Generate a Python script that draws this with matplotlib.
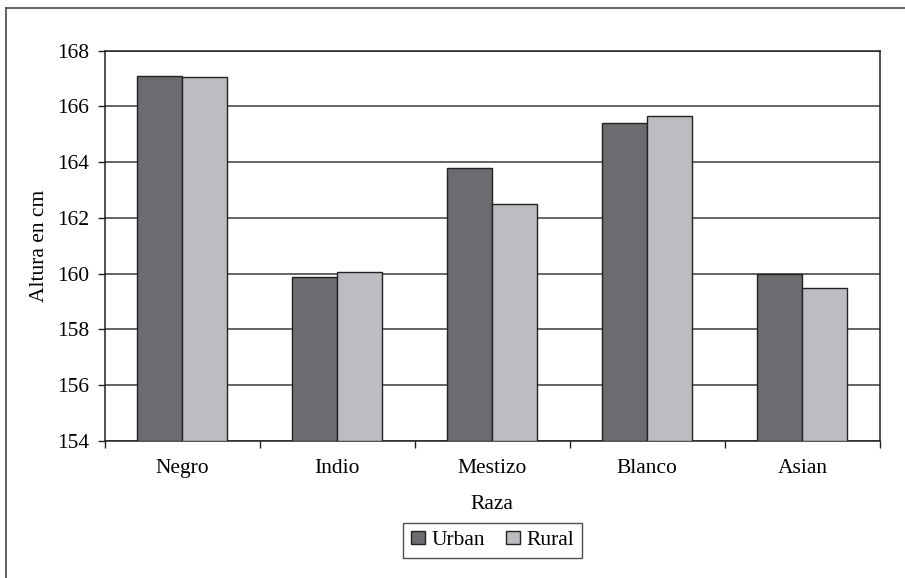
import matplotlib
matplotlib.use("Agg")
import matplotlib.pyplot as plt
from matplotlib.lines import Line2D
import numpy as np

categories = ["Negro", "Indio", "Mestizo", "Blanco", "Asian"]
urban = [167.1, 159.87, 163.8, 165.4, 160.0]
rural = [167.05, 160.07, 162.5, 165.65, 159.5]
yticks = [154, 156, 158, 160, 162, 164, 166, 168]

plt.rcParams["font.family"] = ["Liberation Serif", "DejaVu Serif"]
plt.rcParams["font.size"] = 15.5

W, H = 905, 578
fig = plt.figure(figsize=(W / 100, H / 100), dpi=100)
ax = fig.add_axes([104.5 / W, 1 - 441 / H, (880 - 104.5) / W, (441 - 50.5) / H])

x = np.arange(len(categories))
bw = 0.29
ax.bar(x - bw / 2, np.array(urban) - 154, bw, bottom=154, color="#6b6c70",
       edgecolor="#222222", linewidth=1.0, label="Urban", zorder=3)
ax.bar(x + bw / 2, np.array(rural) - 154, bw, bottom=154, color="#bcbdc0",
       edgecolor="#222222", linewidth=1.0, label="Rural", zorder=3)

ax.set_xlim(-0.5, len(categories) - 0.5)
ax.set_ylim(154, 168)
ax.set_yticks(yticks)
ax.set_yticklabels([str(v) for v in yticks])
ax.yaxis.grid(True, color="#3a3a3a", linewidth=1.1, zorder=0)
ax.set_axisbelow(True)

# category labels centred, tick marks on category boundaries
ax.set_xticks(x)
ax.set_xticklabels(categories)
ax.tick_params(axis="x", which="major", length=0, pad=13)
ax.set_xticks(np.arange(-0.5, len(categories)), minor=True)
ax.tick_params(axis="x", which="minor", length=5, width=1, color="#222222", direction="out")
ax.tick_params(axis="y", length=5, width=1, color="#222222", direction="out", pad=6)

for s in ax.spines.values():
    s.set_color("#222222")
    s.set_linewidth(1.1)

ax.set_xlabel("Raza", labelpad=12)
ax.set_ylabel("Altura en cm", labelpad=6)

leg = fig.legend(loc="center", bbox_to_anchor=(492.5 / W, 1 - 540.5 / H), ncol=2,
                 frameon=True, fancybox=False, handlelength=0.65, handleheight=0.6,
                 handletextpad=0.3, columnspacing=1.0, borderpad=0.35)
leg.get_frame().set_edgecolor("#222222")
leg.get_frame().set_linewidth(1.0)

# outer chart frame
fig.add_artist(Line2D([6 / W, 6 / W], [0, 1 - 8 / H], transform=fig.transFigure,
                      color="#555555", linewidth=1.3))
fig.add_artist(Line2D([6 / W, 1], [1 - 8 / H, 1 - 8 / H], transform=fig.transFigure,
                      color="#555555", linewidth=1.3))

fig.savefig("out.png", dpi=100)
